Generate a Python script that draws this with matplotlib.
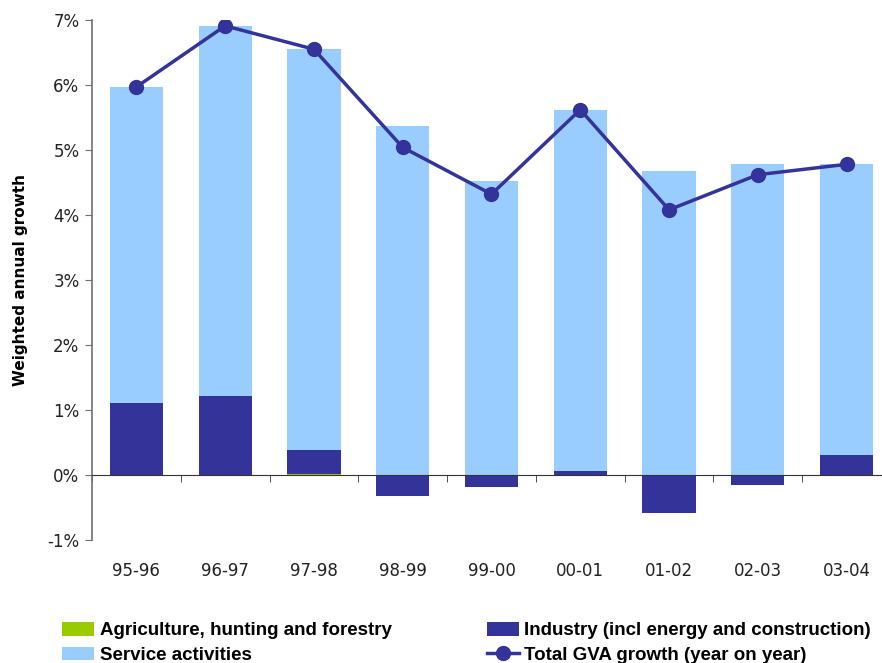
import numpy as np
import matplotlib
matplotlib.use("Agg")
import matplotlib.pyplot as plt
from matplotlib.ticker import FuncFormatter, MultipleLocator

# Data (percentage points of weighted annual growth)
periods = ["95-96", "96-97", "97-98", "98-99", "99-00", "00-01", "01-02", "02-03", "03-04"]
agriculture = [0.0, 0.0, 0.01, 0.0, 0.0, 0.0, 0.0, 0.0, 0.0]
industry = [1.11, 1.22, 0.38, -0.33, -0.19, 0.06, -0.58, -0.16, 0.31]
services = [4.86, 5.69, 6.17, 5.37, 4.52, 5.56, 4.67, 4.78, 4.47]
total_gva = [5.97, 6.91, 6.55, 5.04, 4.32, 5.62, 4.08, 4.62, 4.78]

series = [
    ("Agriculture, hunting and forestry", agriculture, "#99CC00"),
    ("Industry (incl energy and construction)", industry, "#333399"),
    ("Service activities", services, "#99CCFF"),
]

fig = plt.figure(figsize=(8.82, 6.63), dpi=100)
ax = fig.add_axes([92 / 882, 123 / 663, 799 / 882, 520 / 663])

x = np.arange(len(periods))
pos_base = np.zeros(len(periods))
neg_base = np.zeros(len(periods))
handles = {}
for name, vals, col in series:
    vals = np.array(vals)
    bottoms = np.where(vals >= 0, pos_base, neg_base)
    h = ax.bar(x, vals, width=0.6, bottom=bottoms, color=col, label=name, zorder=2)
    handles[name] = h
    pos_base += np.where(vals >= 0, vals, 0)
    neg_base += np.where(vals < 0, vals, 0)

line, = ax.plot(x, total_gva, color="#333399", linewidth=2.5, marker="o",
                markersize=10, label="Total GVA growth (year on year)", zorder=4)

ax.set_xlim(-0.5, len(periods) - 0.5)
ax.set_ylim(-1, 7)
ax.yaxis.set_major_locator(MultipleLocator(1))
ax.yaxis.set_major_formatter(FuncFormatter(lambda v, p: f"{v:.0f}%"))

# category axis sits on the zero line
for s in ["top", "right"]:
    ax.spines[s].set_visible(False)
ax.spines["bottom"].set_position(("data", 0))
ax.spines["bottom"].set_color("#333333")
ax.spines["bottom"].set_zorder(3)
ax.spines["left"].set_color("#707070")
ax.spines["left"].set_linewidth(1.2)

ax.set_xticks(x)
ax.set_xticklabels(periods)
ax.set_xticks(np.arange(len(periods) + 1) - 0.5, minor=True)
ax.tick_params(axis="x", which="major", length=0, pad=63, labelsize=12, colors="#222222")
ax.tick_params(axis="x", which="minor", length=5, direction="out", color="#333333")
ax.tick_params(axis="y", length=5, direction="out", color="#707070", labelsize=12,
               labelcolor="#222222", pad=4)

ax.set_ylabel("Weighted annual growth", fontsize=11, fontweight="bold", labelpad=14)

order = ["Agriculture, hunting and forestry", "Service activities",
         "Industry (incl energy and construction)"]
leg_handles = [handles[order[0]], handles[order[1]], handles[order[2]], line]
leg_labels = [order[0], order[1], order[2], "Total GVA growth (year on year)"]
fig.legend(leg_handles, leg_labels, loc="upper left", bbox_to_anchor=(62 / 882, 1 - 622 / 663),
           ncol=2, frameon=False, prop={"family": "Liberation Sans", "weight": "bold", "size": 13.5},
           handlelength=1.7, handleheight=0.75, handletextpad=0.3, columnspacing=5.1,
           labelspacing=0.38, borderpad=0, borderaxespad=0)

fig.savefig("out.png", dpi=100)
